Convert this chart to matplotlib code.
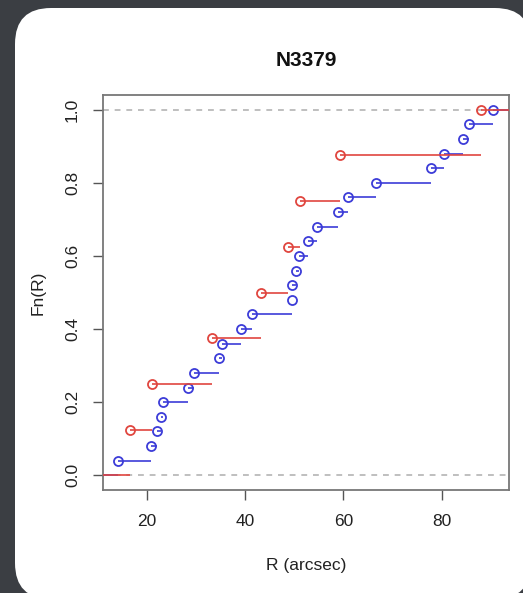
import numpy as np
import matplotlib
matplotlib.use("Agg")
import matplotlib.pyplot as plt
from matplotlib.patches import FancyBboxPatch
from matplotlib.transforms import IdentityTransform

# ---- data ----
blue_r = [14.1, 20.8, 22.0, 22.9, 23.4, 28.3, 29.6, 34.6, 35.4, 39.2, 41.4,
          49.5, 49.6, 50.3, 51.0, 52.9, 54.7, 58.9, 61.0, 66.6, 77.8, 80.5,
          84.4, 85.6, 90.5]
red_r = [16.6, 21.1, 33.3, 43.3, 48.7, 51.2, 59.3, 88.0]
title = "N3379"
xlabel = "R (arcsec)"
ylabel = "Fn(R)"
xticks = [20, 40, 60, 80]
yticks = [0.0, 0.2, 0.4, 0.6, 0.8, 1.0]

plt.rcParams['font.family'] = ['Liberation Sans', 'DejaVu Sans']

W, H, DPI = 523, 593, 100
fig = plt.figure(figsize=(W / DPI, H / DPI), dpi=DPI)
fig.patch.set_facecolor('#3b3e43')

panel = FancyBboxPatch((15, -6), 516, H - 8 + 6,
                       boxstyle="round,pad=0,rounding_size=36",
                       transform=IdentityTransform(), facecolor='white',
                       edgecolor='none', zorder=-10)
fig.patches.append(panel)

ax = fig.add_axes([103 / W, 1 - 490 / H, (509 - 103) / W, (490 - 95) / H])
ax.set_zorder(5)
ax.set_facecolor('none')
ax.set_xlim(11.1, 93.7)
ax.set_ylim(-0.04, 1.04)

ax.axhline(0, color='#b4b4b4', lw=1.2, dashes=(3.5, 3.5), zorder=1)
ax.axhline(1, color='#b4b4b4', lw=1.2, dashes=(3.5, 3.5), zorder=1)


def draw_ecdf(vals, color, z):
    xs = np.sort(np.asarray(vals, dtype=float))
    n = len(xs)
    ys = np.arange(1, n + 1) / n
    lo, hi = ax.get_xlim()
    starts = np.concatenate([[lo - 5], xs])
    ends = np.concatenate([xs, [hi + 5]])
    levels = np.concatenate([[0.0], ys])
    ax.hlines(levels, starts, ends, colors=color, lw=1.2, zorder=z)
    ax.plot(xs, ys, 'o', mfc='none', mec=color, ms=6.5, mew=1.3, zorder=z + 0.5)


draw_ecdf(blue_r, '#3c3cd8', 2)
draw_ecdf(red_r, '#e0463f', 3)
ax.set_xlim(11.1, 93.7)

ax.set_xticks(xticks)
ax.set_yticks(yticks)
ax.set_yticklabels([f"{v:.1f}" for v in yticks], rotation=90, va='center')
ax.tick_params(axis='both', direction='out', length=7.5, width=1.0,
               color='#555555', labelsize=12.5, labelcolor='#222222')
ax.tick_params(axis='x', pad=10)
ax.tick_params(axis='y', pad=9)
for s in ax.spines.values():
    s.set_color('#777777')
    s.set_linewidth(1.3)

ax.set_title(title, fontsize=15, fontweight='bold', pad=21, color='#111111')
ax.set_xlabel(xlabel, fontsize=12.5, labelpad=21, color='#222222')
ax.set_ylabel(ylabel, fontsize=12.5, labelpad=14, color='#222222')

fig.savefig("out.png", dpi=DPI, facecolor=fig.get_facecolor())
